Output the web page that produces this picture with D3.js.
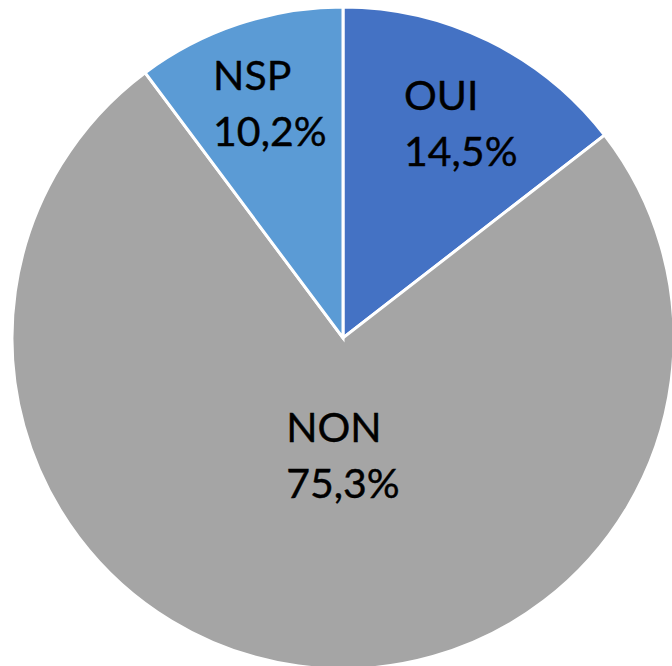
<!DOCTYPE html>
<html>
<head>
<meta charset="utf-8">
<script src="https://cdn.jsdelivr.net/npm/d3@7"></script>
<style>
  html, body { margin: 0; padding: 0; background: #fff; }
  svg { display: block; }
</style>
</head>
<body>
<svg id="chart" width="672" height="666"></svg>
<script>
// Survey answers, in clockwise order from 12 o'clock
const categories = ["OUI", "NON", "NSP"];
const values = [14.5, 75.3, 10.2];
const valueLabels = ["14,5%", "75,3%", "10,2%"];
const colors = ["#4472C4", "#A5A5A5", "#5B9BD5"];

const width = 672, height = 666;
const cx = 343, cy = 338, radius = 331;

const svg = d3.select("#chart");
const g = svg.append("g").attr("transform", `translate(${cx},${cy})`);

const pie = d3.pie().sort(null).value(d => d.value);
const data = categories.map((c, i) => ({ cat: c, value: values[i], label: valueLabels[i], color: colors[i] }));
const arcs = pie(data);

const arc = d3.arc().innerRadius(0).outerRadius(radius);

g.selectAll("path.slice")
  .data(arcs)
  .join("path")
  .attr("class", "slice")
  .attr("d", arc)
  .attr("fill", d => d.data.color)
  .attr("stroke", "#fff")
  .attr("stroke-width", 3)
  .attr("stroke-linejoin", "miter");

// Label placement: large slice inward, small slices toward the rim
const labelFrac = d => (d.endAngle - d.startAngle) > Math.PI ? 0.36 : 0.74;
const nudge = { OUI: [10, 6], NON: [16, 0], NSP: [4, -2] };

const fontSize = 41, lineGap = 56;
const labels = g.selectAll("g.lbl")
  .data(arcs)
  .join("g")
  .attr("class", "lbl");

labels.each(function (d) {
  const r = radius * labelFrac(d);
  const c = d3.arc().innerRadius(r).outerRadius(r).centroid(d);
  const n = nudge[d.data.cat] || [0, 0];
  const sel = d3.select(this);
  const t = sel.append("text")
    .attr("font-family", "Lato, 'Liberation Sans', sans-serif")
    .attr("font-size", fontSize)
    .attr("fill", "#000")
    .attr("stroke", "#000")
    .attr("stroke-width", 0.4);
  t.append("tspan").attr("x", 0).attr("y", 0).text(d.data.cat);
  t.append("tspan").attr("x", 0).attr("y", lineGap).text(d.data.label);
  const bb = t.node().getBBox();
  const w = bb.width;
  const blockCenterY = (-28 + lineGap) / 2;
  t.attr("transform", `translate(${c[0] + n[0] - w / 2},${c[1] + n[1] - blockCenterY})`);
});
</script>
</body>
</html>
